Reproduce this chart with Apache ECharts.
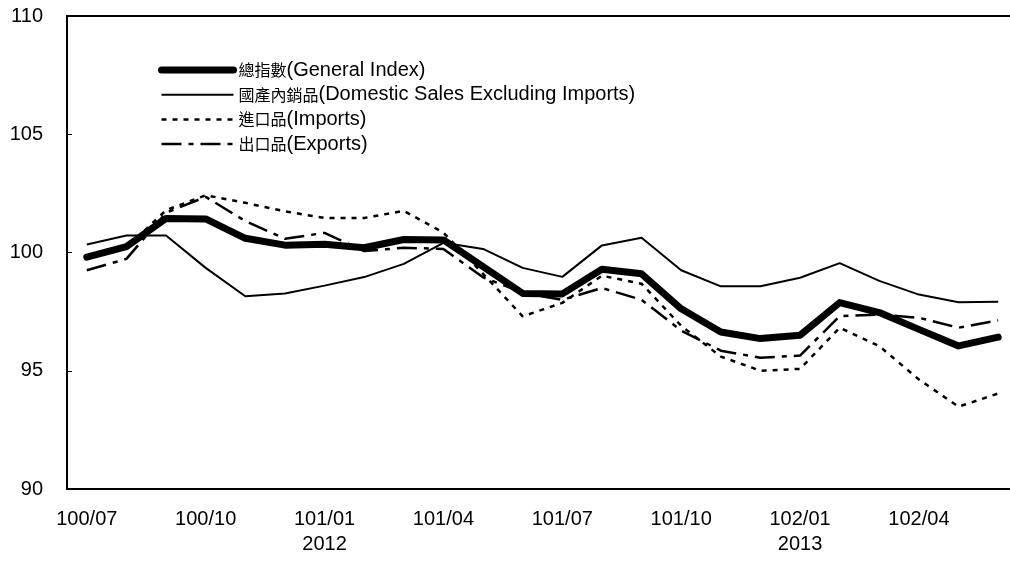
<!DOCTYPE html>
<html>
<head>
<meta charset="utf-8">
<script src="https://cdn.jsdelivr.net/npm/echarts@6/dist/echarts.min.js"></script>
<style>
    html, body { margin: 0; padding: 0; background: #fff; }
    #chart { width: 1010px; height: 561px; }
</style>
</head>
<body>
<div id="chart"></div>
<script>
    // 月份 (民國年/月)
    var months = [
        '100/07', '100/08', '100/09', '100/10', '100/11', '100/12',
        '101/01', '101/02', '101/03', '101/04', '101/05', '101/06',
        '101/07', '101/08', '101/09', '101/10', '101/11', '101/12',
        '102/01', '102/02', '102/03', '102/04', '102/05', '102/06'
    ];
    var yearLabels = { '101/01': '2012', '102/01': '2013' };

    var seriesNames = [
        ['總指數', '(General Index)'],
        ['國產內銷品', '(Domestic Sales Excluding Imports)'],
        ['進口品', '(Imports)'],
        ['出口品', '(Exports)']
    ];

    var generalIndex = [99.8, 100.25, 101.44, 101.42, 100.6, 100.31, 100.35, 100.2, 100.55, 100.53, 99.4, 98.27,
        98.25, 99.29, 99.1, 97.62, 96.64, 96.36, 96.5, 97.88, 97.46, 96.75, 96.05, 96.42];
    var domesticSales = [100.34, 100.72, 100.72, 99.35, 98.15, 98.27, 98.6, 98.96, 99.52, 100.41, 100.15, 99.35,
        98.97, 100.3, 100.62, 99.25, 98.57, 98.57, 98.93, 99.55, 98.8, 98.22, 97.9, 97.92];
    var imports = [99.75, 100.2, 101.79, 102.42, 102.1, 101.74, 101.46, 101.46, 101.76, 100.84, 99.1, 97.3,
        97.87, 99.02, 98.68, 96.9, 95.6, 95.0, 95.08, 96.82, 96.04, 94.63, 93.48, 94.04];
    var exportsData = [99.25, 99.73, 101.68, 102.35, 101.33, 100.58, 100.83, 100.06, 100.2, 100.15, 98.95, 98.3,
        98.0, 98.5, 98.0, 96.7, 95.85, 95.55, 95.64, 97.31, 97.38, 97.24, 96.82, 97.13];

    var yMin = 90, yMax = 110, yStep = 5;

    var latin = "'Liberation Sans', Arial, sans-serif";
    var cjk = "'Noto Sans CJK TC', 'Liberation Sans', sans-serif";

    // 線型
    var styles = [
        { color: '#000', width: 7, cap: 'round', join: 'round' },
        { color: '#000', width: 2 },
        { color: '#000', width: 2.5, type: [5, 6] },
        { color: '#000', width: 2.5, type: [20, 7, 5, 7] }
    ];

    var chart = echarts.init(document.getElementById('chart'));

    function legendName(i) {
        return seriesNames[i][0] + seriesNames[i][1];
    }

    var seriesData = [generalIndex, domesticSales, imports, exportsData];

    chart.setOption({
        animation: false,
        backgroundColor: '#fff',
        grid: {
            left: 67,
            top: 16,
            width: 951,
            height: 473,
            outerBoundsMode: 'none',
            show: true,
            borderColor: '#000',
            borderWidth: 2
        },
        legend: {
            orient: 'vertical',
            left: 158,
            top: 60,
            padding: 0,
            itemWidth: 72,
            itemHeight: 14,
            itemGap: 4.7,
            selectedMode: false,
            itemStyle: { opacity: 0 },
            data: seriesNames.map(function (n, i) {
                return { name: legendName(i), lineStyle: styles[i] };
            }),
            formatter: function (name) {
                for (var i = 0; i < seriesNames.length; i++) {
                    if (legendName(i) === name) {
                        return '{c|' + seriesNames[i][0] + '}{l|' + seriesNames[i][1] + '}';
                    }
                }
                return name;
            },
            textStyle: {
                color: '#000',
                fontSize: 20,
                fontFamily: latin,
                rich: {
                    c: { fontSize: 16, fontFamily: cjk, color: '#000', lineHeight: 20 },
                    l: { fontSize: 20, fontFamily: latin, color: '#000', lineHeight: 20 }
                }
            }
        },
        xAxis: {
            type: 'category',
            data: months,
            boundaryGap: true,
            axisLine: { lineStyle: { color: '#000', width: 2 } },
            axisTick: {
                inside: true,
                length: 5,
                interval: 2,
                lineStyle: { color: '#000', width: 1 }
            },
            axisLabel: {
                interval: 2,
                margin: 18,
                color: '#000',
                fontSize: 20,
                fontFamily: latin,
                lineHeight: 25,
                formatter: function (value) {
                    return yearLabels[value] ? value + '\n' + yearLabels[value] : value;
                }
            },
            splitLine: { show: false }
        },
        yAxis: {
            type: 'value',
            min: yMin,
            max: yMax,
            interval: yStep,
            axisLine: { show: true, lineStyle: { color: '#000', width: 2 } },
            axisTick: {
                show: true,
                inside: true,
                length: 5,
                lineStyle: { color: '#000', width: 1 }
            },
            axisLabel: {
                margin: 24,
                color: '#000',
                fontSize: 20,
                fontFamily: latin
            },
            splitLine: { show: false }
        },
        series: seriesData.map(function (d, i) {
            return {
                name: legendName(i),
                type: 'line',
                data: d,
                symbol: 'none',
                z: i === 0 ? 5 : 3,
                lineStyle: styles[i],
                itemStyle: { color: '#000' }
            };
        })
    });
</script>
</body>
</html>
